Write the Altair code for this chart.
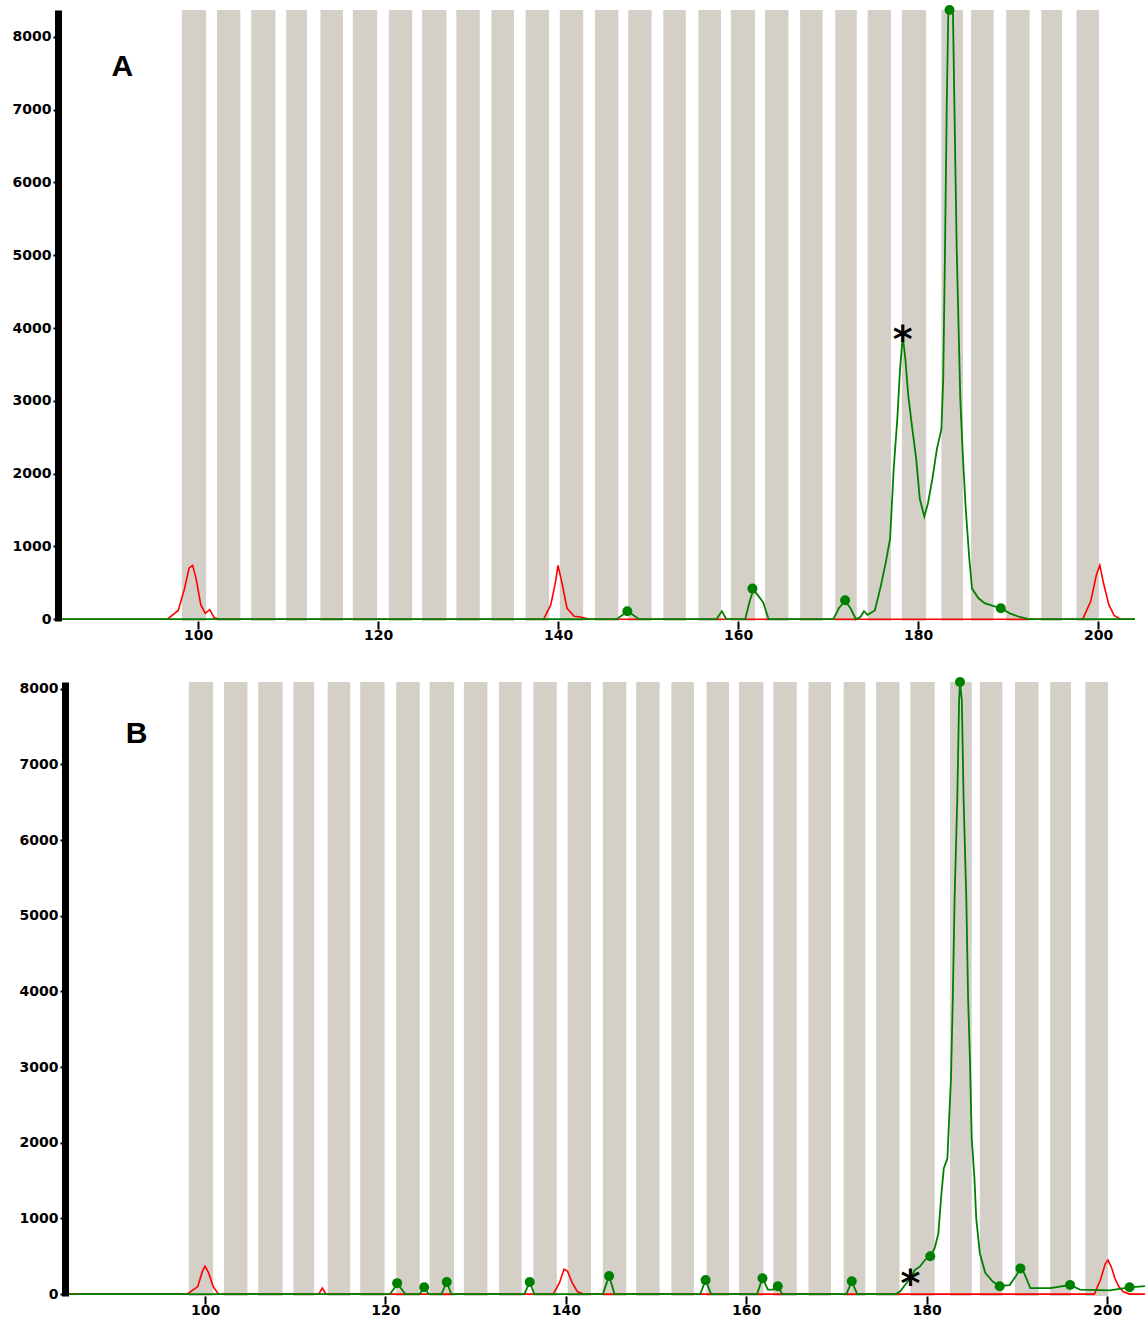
import altair as alt
import pandas as pd

# ---------------- data (bp / RFU) ----------------
x_ticks = [100, 120, 140, 160, 180, 200]
y_ticks = [0, 1000, 2000, 3000, 4000, 5000, 6000, 7000, 8000]

bin_start = [98.2, 102.1, 105.9, 109.8, 113.6, 117.2, 121.2, 124.9, 128.7, 132.6, 136.4,
             140.2, 144.1, 147.8, 151.7, 155.6, 159.2, 163.0, 166.9, 170.8, 174.4, 178.2,
             182.6, 185.9, 189.8, 193.7, 197.6]
bin_end = [100.9, 104.7, 108.6, 112.1, 116.1, 119.9, 123.8, 127.6, 131.3, 135.1, 139.0,
           142.8, 146.7, 150.4, 154.2, 158.1, 161.9, 165.6, 169.4, 173.2, 177.0, 180.9,
           185.0, 188.4, 192.4, 196.0, 200.1]

# Panel A
a_green_x = [84.4, 146.5, 147.2, 147.7, 148.3, 149.0, 157.6, 158.2, 158.7, 160.8, 161.3, 161.7,
             162.2, 162.8, 163.4, 170.6, 171.2, 171.9, 172.5, 173.1, 173.6, 174.0, 174.4,
             175.2, 175.8, 176.4, 176.9, 177.3, 177.7, 178.0, 178.3, 178.6, 178.9, 179.3,
             179.8, 180.2, 180.7, 181.1, 181.6, 182.1, 182.6, 182.8, 183.0, 183.2, 183.5,
             183.8, 184.0, 184.3, 184.7, 185.0, 185.3, 185.7, 186.0, 186.7, 187.4, 188.4,
             189.2, 190.2, 191.3, 192.3, 204.1]
a_green_y = [0, 0, 60, 110, 60, 0, 0, 110, 0, 0, 250, 400,
             330, 230, 0, 0, 150, 250, 150, 0, 30, 110, 60,
             120, 420, 770, 1110, 2070, 2750, 3430, 3890, 3570, 3090, 2680,
             2200, 1650, 1410, 1590, 1930, 2340, 2610, 3300, 5080, 7130, 9300,
             9000, 7400, 5080, 3020, 2200, 1520, 830, 420, 290, 220, 180,
             150, 80, 30, 0, 0]
a_red_x = [84.4, 96.6, 97.8, 98.5, 99.0, 99.4, 99.8, 100.3, 100.8, 101.3, 101.8, 102.5,
           138.4, 139.2, 139.7, 140.0, 140.4, 141.0, 141.8, 142.5, 143.5,
           198.3, 199.2, 199.8, 200.2, 200.6, 201.2, 201.8, 202.5, 204.1]
a_red_y = [0, 0, 120, 420, 700, 740, 550, 200, 80, 130, 20, 0,
           0, 200, 500, 740, 520, 150, 40, 30, 0,
           0, 250, 600, 740, 500, 200, 50, 0, 0]
a_dot_x = [147.7, 161.6, 171.9, 189.2, 183.5]
a_dot_y = [110, 420, 260, 150, 8370]

# Panel B
b_green_x = [84.5, 120.5, 121.0, 121.3, 121.7, 122.2, 123.8, 124.3, 124.8, 126.2, 126.8,
             127.3, 135.4, 136.0, 136.5, 144.1, 144.8, 145.4, 154.9, 155.5, 156.1,
             161.2, 161.8, 162.4, 163.0, 163.5, 164.0, 171.1, 171.7, 172.3, 176.6,
             177.1, 177.6, 178.2, 178.7, 179.3, 179.8, 180.4, 180.9, 181.3, 181.6,
             181.9, 182.3, 182.5, 182.7, 182.9, 183.1, 183.4, 183.6, 183.7, 183.9,
             184.1, 184.4, 184.6, 184.8, 185.0, 185.3, 185.5, 185.9, 186.5, 187.3,
             188.1, 189.2, 189.9, 190.4, 190.8, 191.5, 193.7, 195.9, 197.0, 200.3,
             202.5, 204.2]
b_green_y = [0, 0, 80, 145, 80, 0, 0, 90, 0, 0, 160,
             0, 0, 160, 0, 0, 240, 0, 0, 185, 0,
             0, 210, 60, 60, 105, 0, 0, 170, 0, 0,
             40, 120, 210, 320, 370, 450, 500, 610, 800, 1270,
             1660, 1790, 2320, 2850, 3900, 5220, 6540, 7850, 8090, 7850,
             6540, 5220, 3900, 3110, 2060, 1530, 1000, 540, 280, 170,
             105, 120, 240, 340, 280, 80, 80, 120, 60, 50,
             90, 105]
b_red_x = [84.5, 98.0, 99.2, 99.7, 100.0, 100.4, 100.9, 101.5, 112.6, 113.0, 113.4,
           138.6, 139.3, 139.8, 140.2, 140.7, 141.3, 142.0,
           198.6, 199.3, 199.8, 200.1, 200.5, 200.9, 201.3, 201.8, 202.5, 204.2]
b_red_y = [0, 0, 100, 300, 370, 280, 100, 0, 0, 80, 0,
           0, 150, 330, 300, 150, 30, 0,
           0, 200, 400, 450, 350, 200, 100, 30, 0, 0]
b_dot_x = [121.3, 124.3, 126.8, 136.0, 144.8, 155.5, 161.8, 163.5, 171.7, 180.4,
           188.1, 190.4, 195.9, 202.5, 183.7]
b_dot_y = [145, 90, 160, 160, 240, 185, 210, 105, 170, 500,
           105, 340, 120, 90, 8090]

FONT = "DejaVu Sans"
GREEN = "#008000"
RED = "#FF0000"
GRAY = "#D4D0C8"


def panel(gx, gy, rx, ry, dx, dy, letter, letter_xy, star_xy, xdom, ymin, ymax, w, h, yoff):
    xs = alt.Scale(domain=xdom, nice=False, zero=False)
    ys = alt.Scale(domain=[ymin, ymax], nice=False, zero=False)
    xa = alt.Axis(values=x_ticks, grid=False, domain=False, ticks=True, tickColor="black",
                  tickSize=8, tickWidth=2, labelFont=FONT, labelFontWeight="bold",
                  labelFontSize=14, labelColor="black", labelPadding=-1, title=None,
                  format="d", zindex=1)
    ya = alt.Axis(values=y_ticks, grid=False, domainColor="black", domainWidth=7,
                  tickColor="black", tickSize=5, tickWidth=2, labelFont=FONT,
                  labelFontWeight="bold", labelFontSize=14, labelColor="black",
                  labelPadding=2, title=None, format="d", zindex=1, offset=yoff,
                  minExtent=58, maxExtent=58)

    bins = pd.DataFrame({"s": bin_start, "e": bin_end})
    bars = alt.Chart(bins).mark_rect(color=GRAY).encode(
        x=alt.X("s:Q", scale=xs, axis=xa), x2="e:Q",
        y=alt.value(0), y2=alt.value(h))

    red = alt.Chart(pd.DataFrame({"x": rx, "y": ry})).mark_line(
        color=RED, strokeWidth=1.6, clip=True).encode(
        x=alt.X("x:Q", scale=xs), y=alt.Y("y:Q", scale=ys, axis=ya), order="x:Q")
    green = alt.Chart(pd.DataFrame({"x": gx, "y": gy})).mark_line(
        color=GREEN, strokeWidth=1.8, clip=True).encode(
        x=alt.X("x:Q", scale=xs), y=alt.Y("y:Q", scale=ys), order="x:Q")
    dots = alt.Chart(pd.DataFrame({"x": dx, "y": dy})).mark_circle(
        color=GREEN, opacity=1, size=100).encode(
        x=alt.X("x:Q", scale=xs), y=alt.Y("y:Q", scale=ys))
    lab = alt.Chart(pd.DataFrame({"x": [letter_xy[0]], "y": [letter_xy[1]], "t": [letter]})).mark_text(
        font="Liberation Sans", fontWeight="bold", fontSize=30, color="black",
        align="center", baseline="middle").encode(
        x=alt.X("x:Q", scale=xs), y=alt.Y("y:Q", scale=ys), text="t:N")
    star = alt.Chart(pd.DataFrame({"x": [star_xy[0]], "y": [star_xy[1]], "t": ["*"]})).mark_text(
        font=FONT, fontWeight="bold", fontSize=38, color="black",
        align="center", baseline="middle", dy=9).encode(
        x=alt.X("x:Q", scale=xs), y=alt.Y("y:Q", scale=ys), text="t:N")
    return alt.layer(bars, red, green, dots, lab, star).properties(width=w, height=h)


A = panel(a_green_x, a_green_y, a_red_x, a_red_y, a_dot_x, a_dot_y, "A",
          (91.6, 7580), (178.3, 3950), [84.44, 204.11], -25, 8370, 1077, 611, 0)
B = panel(b_green_x, b_green_y, b_red_x, b_red_y, b_dot_x, b_dot_y, "B",
          (92.4, 7400), (178.2, 240), [83.70, 204.21], -25, 8090, 1087, 614, -7)

chart = alt.vconcat(A, B, spacing=35).properties(
    padding={"left": 0, "top": 5, "right": 0, "bottom": 0},
    background="white",
).configure_view(stroke=None)

chart.save("out.html", embed_options={"renderer": "svg", "actions": False})
